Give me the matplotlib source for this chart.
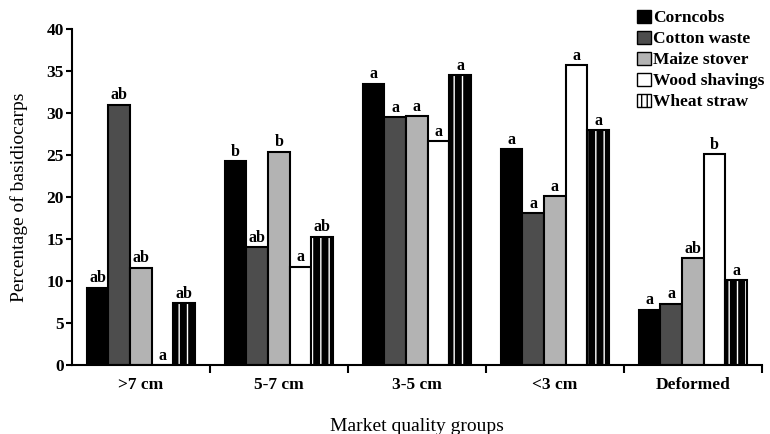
import numpy as np
import matplotlib.pyplot as plt
from matplotlib.patches import Patch

plt.rcParams['font.family'] = ['Liberation Serif', 'DejaVu Serif']

groups = [">7 cm", "5-7 cm", "3-5 cm", "<3 cm", "Deformed"]
substrates = ["Corncobs", "Cotton waste", "Maize stover", "Wood shavings", "Wheat straw"]

corncobs = [9.2, 24.3, 33.5, 25.7, 6.6]
cotton = [31.0, 14.0, 29.5, 18.1, 7.3]
maize = [11.6, 25.4, 29.6, 20.1, 12.7]
wood = [0.0, 11.7, 26.7, 35.7, 25.1]
wheat = [7.4, 15.3, 34.5, 28.0, 10.1]

letters_corncobs = ["ab", "b", "a", "a", "a"]
letters_cotton = ["ab", "ab", "a", "a", "a"]
letters_maize = ["ab", "b", "a", "a", "ab"]
letters_wood = ["a", "a", "a", "a", "b"]
letters_wheat = ["ab", "ab", "a", "a", "a"]

series = [corncobs, cotton, maize, wood, wheat]
letters = [letters_corncobs, letters_cotton, letters_maize, letters_wood, letters_wheat]
colors = ["#000000", "#4d4d4d", "#b3b3b3", "#ffffff", "#000000"]

fig = plt.figure(figsize=(7.7, 4.34), dpi=100)
ax = fig.add_axes([0.0935, 0.159, 0.896, 0.774])

x = np.arange(len(groups))
w = 0.157
for i, (vals, col) in enumerate(zip(series, colors)):
    pos = x + (i - 2) * w
    if i == 4:
        # wheat straw: black with thin white vertical stripes
        ax.bar(pos, vals, w, color="black", edgecolor="white", hatch="||", linewidth=0)
        ax.bar(pos, vals, w, fill=False, edgecolor="black", linewidth=1.5)
    else:
        ax.bar(pos, vals, w, color=col, edgecolor="black", linewidth=1.5)
    for p, v, t in zip(pos, vals, letters[i]):
        ax.text(p, v + 0.15, t, ha="center", va="bottom", fontsize=11.5, fontweight="bold")

ax.set_xlim(-0.5, 4.5)
ax.set_ylim(0, 40)
ax.set_yticks(range(0, 41, 5))
ax.set_xticks(x)
ax.set_xticklabels(groups, fontsize=12.5, fontweight="bold")
ax.set_xticks(np.arange(0.5, 4.6, 1), minor=True)
ax.tick_params(axis="x", which="major", length=0, pad=9)
ax.tick_params(axis="x", which="minor", length=6, width=1.5, direction="out")
ax.tick_params(axis="y", length=4, width=1.5, labelsize=12.5, pad=2)
for lab in ax.get_yticklabels():
    lab.set_fontweight("bold")
ax.spines["top"].set_visible(False)
ax.spines["right"].set_visible(False)
ax.spines["left"].set_linewidth(1.5)
ax.spines["bottom"].set_linewidth(1.5)

ax.set_ylabel("Percentage of basidiocarps", fontsize=14, labelpad=13)
ax.set_xlabel("Market quality groups", fontsize=14, labelpad=18)

leg_handles = [Patch(facecolor=c, edgecolor="black", linewidth=1) for c in colors[:4]]
leg_handles.append(Patch(facecolor="white", edgecolor="black", hatch="|||", linewidth=1))
ax.legend(leg_handles, substrates, loc="upper left", bbox_to_anchor=(0.815, 1.0, 0, 0),
          bbox_transform=fig.transFigure, frameon=False,
          handlelength=0.8, handleheight=0.8, handletextpad=0.1, labelspacing=0.25,
          borderaxespad=0.15, prop={"weight": "bold", "size": 12.5})

fig.savefig("out.png", dpi=100)
